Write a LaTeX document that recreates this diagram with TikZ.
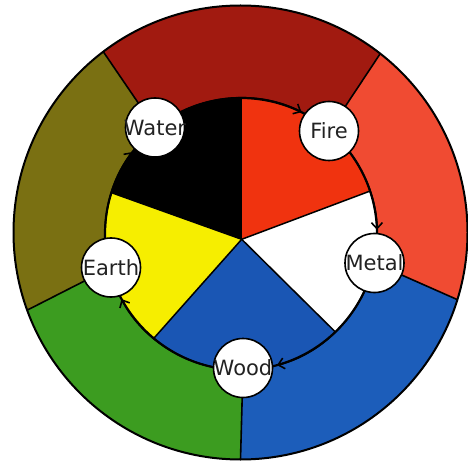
\documentclass[tikz,border=0pt]{standalone}
\usepackage{fontspec}
\newfontfamily\labelfont{DejaVu Sans}
\usetikzlibrary{arrows.meta,calc}
\definecolor{ringRed}{HTML}{A11A10}
\definecolor{ringOrange}{HTML}{F04B32}
\definecolor{ringBlue}{HTML}{1C5DBA}
\definecolor{ringGreen}{HTML}{3C9C20}
\definecolor{ringOlive}{HTML}{7A7012}
\definecolor{pieRed}{HTML}{F0330F}
\definecolor{pieBlue}{HTML}{1A56B4}
\definecolor{pieYellow}{HTML}{F6EE00}
\definecolor{textgray}{HTML}{222222}
\tikzset{
  elem/.style={circle, draw=black, line width=1.6pt, fill=white, minimum size=59pt, inner sep=0pt},
  elabel/.style={font=\labelfont\fontsize{21}{25}\selectfont, text=textgray, inner sep=0pt},
  sepline/.style={line width=1.6pt, draw=black},
  flow/.style={line width=1.6pt, draw=black, -{Straight Barb[length=6pt,width=11pt,line width=1.6pt]}, shorten >=3pt}
}
\begin{document}
\begin{tikzpicture}[x=1pt,y=1pt]
\fill[white] (0,0) rectangle (468,461);
\useasboundingbox (0,0) rectangle (468,461);
\coordinate (O) at (240.5,228.5);
\coordinate (C) at (241,227);
\coordinate (P) at (241.7,221.7);
\coordinate (nW) at (155,333.5);
\coordinate (nF) at (329,330);
\coordinate (nM) at (374.5,198);
\coordinate (nD) at (243,93);
\coordinate (nE) at (111,193.5);
\def\R{227}
\def\r{136}
% outer ring sectors
\fill[ringRed] (nW) -- ($(O)+(127.2:\R)$) arc[start angle=127.2, end angle=52, radius=\R] -- (nF) -- (P) -- cycle;
\fill[ringOrange] (nF) -- ($(O)+(52:\R)$) arc[start angle=52, end angle=-17.2, radius=\R] -- (nM) -- (P) -- cycle;
\fill[ringBlue] (nM) -- ($(O)+(-17.2:\R)$) arc[start angle=-17.2, end angle=-90, radius=\R] -- (nD) -- (P) -- cycle;
\fill[ringGreen] (nD) -- ($(O)+(-90:\R)$) arc[start angle=-90, end angle=-160, radius=\R] -- (nE) -- (P) -- cycle;
\fill[ringOlive] (nE) -- ($(O)+(-160:\R)$) arc[start angle=-160, end angle=-232.8, radius=\R] -- (nW) -- (P) -- cycle;
\draw[sepline] (nW) -- ($(O)+(127.2:\R)$);
\draw[sepline] (nF) -- ($(O)+(52:\R)$);
\draw[sepline] (nM) -- ($(O)+(-17.2:\R)$);
\draw[sepline] (nD) -- ($(O)+(-90:\R)$);
\draw[sepline] (nE) -- ($(O)+(-160:\R)$);
\draw[line width=2pt] (O) circle (\R);
% inner pie
\begin{scope}
\clip (C) circle (\r);
\fill[black] (P) -- ($(P)+(90:300)$) -- ($(P)+(125:300)$) -- ($(P)+(160.3:300)$) -- cycle;
\fill[pieRed] (P) -- ($(P)+(90:300)$) -- ($(P)+(55:300)$) -- ($(P)+(20.6:300)$) -- cycle;
\fill[white] (P) -- ($(P)+(20.6:300)$) -- ($(P)+(-12:300)$) -- ($(P)+(-44.7:300)$) -- cycle;
\fill[pieBlue] (P) -- ($(P)+(-44.7:300)$) -- ($(P)+(-88:300)$) -- ($(P)+(-131.6:300)$) -- cycle;
\fill[pieYellow] (P) -- ($(P)+(-131.6:300)$) -- ($(P)+(-165:300)$) -- ($(P)+(-199.7:300)$) -- cycle;
\foreach \a in {90,20.6,-44.7,-131.6,160.3}
  \draw[line width=1.5pt] (P) -- ($(P)+(\a:160)$);
\end{scope}
\draw[line width=2.2pt] (C) circle (\r);
% element nodes
\node[elem, label={[elabel]center:Water}] (water) at (nW) {};
\node[elem, label={[elabel]center:Fire}] (fire) at (nF) {};
\node[elem, label={[elabel]center:Metal}] (metal) at (nM) {};
\node[elem, label={[elabel]center:Wood}] (wood) at (nD) {};
\node[elem, label={[elabel]center:Earth}] (earth) at (nE) {};
% arc starts at the node borders on the inner circle
\coordinate (sWF) at ($(C)+(116.1:\r)$);
\coordinate (sFM) at ($(C)+(36.7:\r)$);
\coordinate (sMD) at ($(C)+(-25.1:\r)$);
\coordinate (sDE) at ($(C)+(-101.5:\r)$);
\coordinate (sEW) at ($(C)+(181.7:\r)$);
% cycle arrows along the inner circle
\draw[flow] (sWF) arc[start angle=116.1, end angle=62.3, radius=\r];
\draw[flow] (sFM) arc[start angle=36.7, end angle=0.5, radius=\r];
\draw[flow] (sMD) arc[start angle=-25.1, end angle=-75.9, radius=\r];
\draw[flow] (sDE) arc[start angle=-101.5, end angle=-152.7, radius=\r];
\draw[flow] (sEW) arc[start angle=181.7, end angle=141.7, radius=\r];
\end{tikzpicture}
\end{document}
